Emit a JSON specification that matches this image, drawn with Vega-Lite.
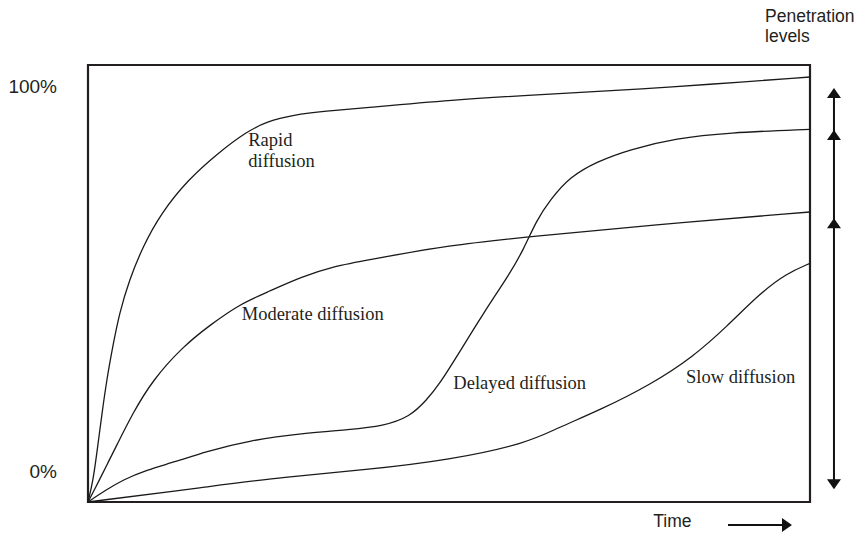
{
  "$schema": "https://vega.github.io/schema/vega-lite/v6.json",
  "width": 722,
  "height": 437,
  "autosize": {"type": "none"},
  "padding": {"left": 88, "top": 65, "right": 49, "bottom": 32},
  "background": "white",
  "config": {"view": {"stroke": "#231f20", "strokeWidth": 2.2}},
  "datasets": {
    "curves": [
      {"series": "Rapid", "t": 0, "p": 0},
      {"series": "Rapid", "t": 0.73, "p": 5.03},
      {"series": "Rapid", "t": 1.34, "p": 12.66},
      {"series": "Rapid", "t": 1.94, "p": 20.3},
      {"series": "Rapid", "t": 2.59, "p": 27.92},
      {"series": "Rapid", "t": 3.42, "p": 35.54},
      {"series": "Rapid", "t": 4.34, "p": 43.18},
      {"series": "Rapid", "t": 5.72, "p": 50.8},
      {"series": "Rapid", "t": 7.58, "p": 58.42},
      {"series": "Rapid", "t": 10.11, "p": 66.06},
      {"series": "Rapid", "t": 13.81, "p": 73.68},
      {"series": "Rapid", "t": 18.01, "p": 79.86},
      {"series": "Rapid", "t": 21.98, "p": 84.74},
      {"series": "Rapid", "t": 24.75, "p": 87.03},
      {"series": "Rapid", "t": 28.39, "p": 88.56},
      {"series": "Rapid", "t": 33.06, "p": 89.47},
      {"series": "Rapid", "t": 37.67, "p": 90.09},
      {"series": "Rapid", "t": 50.14, "p": 91.99},
      {"series": "Rapid", "t": 63.99, "p": 93.36},
      {"series": "Rapid", "t": 77.84, "p": 94.62},
      {"series": "Rapid", "t": 84.76, "p": 95.42},
      {"series": "Rapid", "t": 100, "p": 97.25},
      {"series": "Moderate", "t": 0, "p": 0},
      {"series": "Moderate", "t": 0.87, "p": 2.75},
      {"series": "Moderate", "t": 1.57, "p": 5.03},
      {"series": "Moderate", "t": 2.73, "p": 8.86},
      {"series": "Moderate", "t": 3.88, "p": 12.65},
      {"series": "Moderate", "t": 6.19, "p": 20.3},
      {"series": "Moderate", "t": 8.96, "p": 27.92},
      {"series": "Moderate", "t": 13.12, "p": 35.54},
      {"series": "Moderate", "t": 16.9, "p": 40.5},
      {"series": "Moderate", "t": 21.05, "p": 45.31},
      {"series": "Moderate", "t": 24.97, "p": 48.12},
      {"series": "Moderate", "t": 29.6, "p": 51.56},
      {"series": "Moderate", "t": 34.21, "p": 54.0},
      {"series": "Moderate", "t": 38.37, "p": 55.26},
      {"series": "Moderate", "t": 50.14, "p": 58.81},
      {"series": "Moderate", "t": 61.22, "p": 60.71},
      {"series": "Moderate", "t": 77.84, "p": 63.39},
      {"series": "Moderate", "t": 100, "p": 66.36},
      {"series": "Delayed", "t": 0, "p": 0},
      {"series": "Delayed", "t": 2.49, "p": 2.75},
      {"series": "Delayed", "t": 4.81, "p": 5.03},
      {"series": "Delayed", "t": 8.03, "p": 7.32},
      {"series": "Delayed", "t": 12.19, "p": 9.22},
      {"series": "Delayed", "t": 16.07, "p": 11.44},
      {"series": "Delayed", "t": 22.67, "p": 14.19},
      {"series": "Delayed", "t": 29.6, "p": 15.72},
      {"series": "Delayed", "t": 36.29, "p": 16.59},
      {"series": "Delayed", "t": 40.9, "p": 17.39},
      {"series": "Delayed", "t": 44.6, "p": 19.52},
      {"series": "Delayed", "t": 46.91, "p": 23.34},
      {"series": "Delayed", "t": 48.75, "p": 27.16},
      {"series": "Delayed", "t": 51.07, "p": 33.25},
      {"series": "Delayed", "t": 54.75, "p": 43.18},
      {"series": "Delayed", "t": 58.45, "p": 52.33},
      {"series": "Delayed", "t": 60.29, "p": 57.67},
      {"series": "Delayed", "t": 62.15, "p": 64.53},
      {"series": "Delayed", "t": 64.0, "p": 69.11},
      {"series": "Delayed", "t": 66.76, "p": 74.44},
      {"series": "Delayed", "t": 70.46, "p": 77.87},
      {"series": "Delayed", "t": 75.07, "p": 80.71},
      {"series": "Delayed", "t": 81.54, "p": 83.23},
      {"series": "Delayed", "t": 88.46, "p": 84.51},
      {"series": "Delayed", "t": 100, "p": 85.29},
      {"series": "Slow", "t": 0, "p": 0},
      {"series": "Slow", "t": 16.34, "p": 3.43},
      {"series": "Slow", "t": 27.29, "p": 5.79},
      {"series": "Slow", "t": 38.37, "p": 7.32},
      {"series": "Slow", "t": 50.14, "p": 9.61},
      {"series": "Slow", "t": 60.76, "p": 13.43},
      {"series": "Slow", "t": 64.92, "p": 16.86},
      {"series": "Slow", "t": 70.91, "p": 21.05},
      {"series": "Slow", "t": 77.84, "p": 26.77},
      {"series": "Slow", "t": 83.84, "p": 33.25},
      {"series": "Slow", "t": 88.46, "p": 40.11},
      {"series": "Slow", "t": 93.07, "p": 47.76},
      {"series": "Slow", "t": 96.77, "p": 52.33},
      {"series": "Slow", "t": 100, "p": 54.62}
    ],
    "curveLabels": [
      {"label": "Rapid\ndiffusion", "t": 22.2, "p": 81.46},
      {"label": "Moderate diffusion", "t": 21.29, "p": 41.65},
      {"label": "Delayed diffusion", "t": 50.6, "p": 25.79},
      {"label": "Slow diffusion", "t": 82.83, "p": 27.3}
    ],
    "pctLabels": [
      {"label": "100%", "t": -4.29, "p": 94.97},
      {"label": "0%", "t": -4.29, "p": 6.93}
    ],
    "sideLabels": [
      {"label": "Penetration\nlevels", "t": 93.77, "p": 109.91},
      {"label": "Time", "t": 78.3, "p": -5.65}
    ],
    "vArrow": [{"t": 103.32, "p": 93.59, "p2": 4.05}],
    "hArrow": [{"t": 88.64, "t2": 96.6, "p": -5.26}],
    "heads": [
      {"dir": "up", "t": 103.32, "p": 93.59},
      {"dir": "up", "t": 103.32, "p": 83.98},
      {"dir": "up", "t": 103.32, "p": 63.78},
      {"dir": "down", "t": 103.32, "p": 4.05},
      {"dir": "right", "t": 96.81, "p": -5.26}
    ]
  },
  "layer": [
    {
      "data": {"name": "curves"},
      "mark": {"type": "line", "interpolate": "basis", "color": "#1a1a1a", "strokeWidth": 1.3},
      "encoding": {
        "x": {"field": "t", "type": "quantitative", "scale": {"domain": [0, 100], "nice": false, "zero": false}, "axis": null},
        "y": {"field": "p", "type": "quantitative", "scale": {"domain": [0, 100], "nice": false, "zero": false}, "axis": null},
        "detail": {"field": "series", "type": "nominal"}
      }
    },
    {
      "data": {"name": "curveLabels"},
      "mark": {"type": "text", "align": "left", "baseline": "alphabetic", "font": "Liberation Serif", "fontSize": 18.5, "color": "#231f20", "lineBreak": "\n", "lineHeight": 21},
      "encoding": {
        "x": {"field": "t", "type": "quantitative"},
        "y": {"field": "p", "type": "quantitative"},
        "text": {"field": "label", "type": "nominal"}
      }
    },
    {
      "data": {"name": "pctLabels"},
      "mark": {"type": "text", "align": "right", "baseline": "middle", "font": "Liberation Sans", "fontSize": 19, "color": "#231f20"},
      "encoding": {
        "x": {"field": "t", "type": "quantitative"},
        "y": {"field": "p", "type": "quantitative"},
        "text": {"field": "label", "type": "nominal"}
      }
    },
    {
      "data": {"name": "sideLabels"},
      "mark": {"type": "text", "align": "left", "baseline": "alphabetic", "font": "Liberation Sans", "fontSize": 17.5, "color": "#231f20", "lineBreak": "\n", "lineHeight": 20},
      "encoding": {
        "x": {"field": "t", "type": "quantitative"},
        "y": {"field": "p", "type": "quantitative"},
        "text": {"field": "label", "type": "nominal"}
      }
    },
    {
      "data": {"name": "vArrow"},
      "mark": {"type": "rule", "color": "#111", "strokeWidth": 2},
      "encoding": {
        "x": {"field": "t", "type": "quantitative"},
        "y": {"field": "p", "type": "quantitative"},
        "y2": {"field": "p2"}
      }
    },
    {
      "data": {"name": "hArrow"},
      "mark": {"type": "rule", "color": "#111", "strokeWidth": 2},
      "encoding": {
        "x": {"field": "t", "type": "quantitative"},
        "x2": {"field": "t2"},
        "y": {"field": "p", "type": "quantitative"}
      }
    },
    {
      "data": {"name": "heads"},
      "mark": {"type": "point", "filled": true, "color": "#111", "size": 196, "opacity": 1, "strokeWidth": 0},
      "encoding": {
        "x": {"field": "t", "type": "quantitative"},
        "y": {"field": "p", "type": "quantitative"},
        "shape": {
          "field": "dir",
          "type": "nominal",
          "scale": {
            "domain": ["up", "down", "right"],
            "range": ["M0,-0.714L1,0.714L-1,0.714Z", "M0,0.714L1,-0.714L-1,-0.714Z", "M0.714,0L-0.714,-1L-0.714,1Z"]
          },
          "legend": null
        }
      }
    }
  ]
}
